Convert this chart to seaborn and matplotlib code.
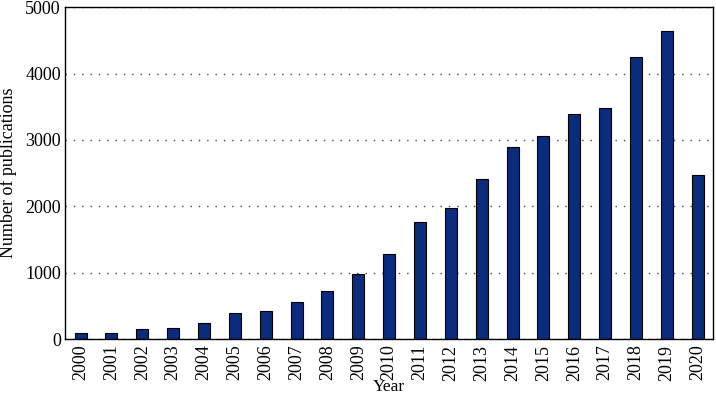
import matplotlib
matplotlib.use("Agg")
import matplotlib.pyplot as plt
import seaborn as sns
import pandas as pd

years = [str(y) for y in range(2000, 2021)]
publications = [97, 97, 152, 167, 242, 394, 424, 556, 727, 980, 1279,
                1760, 1975, 2414, 2887, 3053, 3389, 3484, 4252, 4643, 2475]
y_ticks = [0, 1000, 2000, 3000, 4000, 5000]

df = pd.DataFrame({"Year": years, "Publications": publications})

sns.set_style("white")
plt.rcParams["font.family"] = ["Liberation Serif", "DejaVu Serif"]
plt.rcParams["text.color"] = "black"
plt.rcParams["axes.labelcolor"] = "black"
plt.rcParams["xtick.color"] = "black"
plt.rcParams["ytick.color"] = "black"

fig = plt.figure(figsize=(7.16, 3.97), dpi=100)
ax = fig.add_axes([0.091, 0.146, 0.905, 0.836])

sns.barplot(data=df, x="Year", y="Publications", color="#0b2b7d",
            width=0.39, edgecolor="black", linewidth=0.8, saturation=1, ax=ax)

ax.set_ylim(0, 5000)
ax.set_xlim(-0.5, len(years) - 0.5)
ax.set_yticks(y_ticks)
ax.yaxis.grid(True, linestyle=(0, (1, 5)), color="#444444", linewidth=1.0)
ax.set_axisbelow(True)
ax.tick_params(axis="x", labelrotation=90, labelsize=13, length=0, pad=4)
ax.tick_params(axis="y", labelsize=13, length=0, pad=3)
ax.set_xlabel("Year", fontsize=12.5, labelpad=-1.5)
ax.set_ylabel("Number of publications", fontsize=13, labelpad=6)
for s in ax.spines.values():
    s.set_color("black")
    s.set_linewidth(1.0)

fig.savefig("out.png", dpi=100)
